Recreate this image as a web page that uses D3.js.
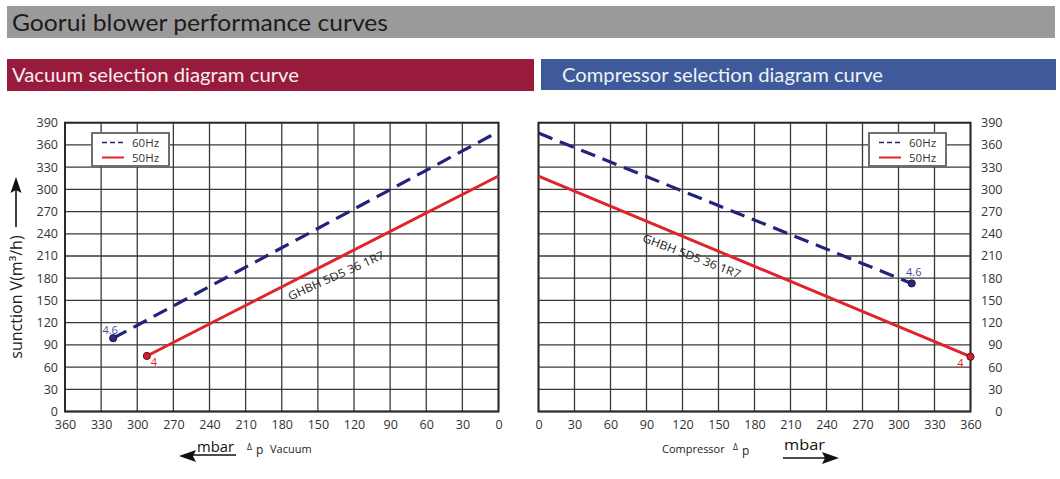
<!DOCTYPE html>
<html>
<head>
<meta charset="utf-8">
<script src="https://cdn.jsdelivr.net/npm/d3@7"></script>
<style>
  html, body { margin: 0; padding: 0; background: #fff; }
  svg { display: block; }
</style>
</head>
<body>
<svg id="chart" width="1060" height="479"></svg>
<script>
// ---------------- data ----------------
const titleText = "Goorui blower performance curves";
const leftHeader = "Vacuum selection diagram curve";
const rightHeader = "Compressor selection diagram curve";
const modelLabel = "GHBH  5D5 36 1R7";
const seriesNames = ["60Hz", "50Hz"];

const mbarTicks = [0, 30, 60, 90, 120, 150, 180, 210, 240, 270, 300, 330, 360];
const flowTicks = [0, 30, 60, 90, 120, 150, 180, 210, 240, 270, 300, 330, 360, 390];

// Vacuum side (mbar vacuum -> suction volume m3/h)
const vacMbar60 = [320, 0];
const vacFlow60 = [99, 378];
const vacMbar50 = [292, 0];
const vacFlow50 = [75, 318];
const vacEndLabels = ["4.6", "4"];

// Compressor side (mbar overpressure -> suction volume m3/h)
const compMbar60 = [0, 311];
const compFlow60 = [376, 173];
const compMbar50 = [0, 360];
const compFlow50 = [318, 74];
const compEndLabels = ["4.6", "4"];

// ---------------- layout ----------------
const svg = d3.select("#chart");
const FONT = "'Open Sans', 'DejaVu Sans', sans-serif";
const HFONT = "Lato, 'Open Sans', sans-serif";
const col60 = "#23237a", col50 = "#e0242b";

const yTop = 122.7, yBot = 411.5;
const y = d3.scaleLinear().domain([0, 390]).range([yBot, yTop]);
const xL = d3.scaleLinear().domain([360, 0]).range([65, 498.5]);
const xR = d3.scaleLinear().domain([0, 360]).range([538.5, 970.5]);

// headers
svg.append("rect").attr("x", 7).attr("y", 6).attr("width", 1048).attr("height", 32).attr("fill", "#9a9a9a");
svg.append("text").attr("x", 12).attr("y", 31).attr("font-family", HFONT).attr("font-size", 23)
  .attr("fill", "#1c1c1c").attr("textLength", 376).attr("lengthAdjust", "spacingAndGlyphs").text(titleText);

svg.append("rect").attr("x", 7).attr("y", 59).attr("width", 527).attr("height", 32).attr("fill", "#981a3c");
svg.append("text").attr("x", 12).attr("y", 81.5).attr("font-family", HFONT).attr("font-size", 19.5)
  .attr("fill", "#f4eef0").attr("textLength", 287).attr("lengthAdjust", "spacingAndGlyphs").text(leftHeader);

svg.append("rect").attr("x", 541).attr("y", 59).attr("width", 515).attr("height", 31).attr("fill", "#3f5a9a");
svg.append("text").attr("x", 562).attr("y", 81.5).attr("font-family", HFONT).attr("font-size", 19.5)
  .attr("fill", "#eef1f8").attr("textLength", 321).attr("lengthAdjust", "spacingAndGlyphs").text(rightHeader);

function drawPanel(x, side, mb60, fl60, mb50, fl50, endLabels, legendX, label) {
  const g = svg.append("g");
  const [x0, x1] = d3.extent(x.range());
  // grid
  g.selectAll(".vg").data(mbarTicks).join("line")
    .attr("x1", d => x(d)).attr("x2", d => x(d)).attr("y1", yTop).attr("y2", yBot)
    .attr("stroke", "#3a3a3a").attr("stroke-width", 1.3);
  g.selectAll(".hg").data(flowTicks).join("line")
    .attr("x1", x0).attr("x2", x1).attr("y1", d => y(d)).attr("y2", d => y(d))
    .attr("stroke", "#3a3a3a").attr("stroke-width", 1.3);
  g.append("rect").attr("x", x0).attr("y", yTop).attr("width", x1 - x0).attr("height", yBot - yTop)
    .attr("fill", "none").attr("stroke", "#2a2a2a").attr("stroke-width", 2);

  // x axis labels
  const xa = g.append("g").attr("transform", `translate(0,${yBot})`)
    .call(d3.axisBottom(x).tickValues(mbarTicks).tickSize(0).tickPadding(9).tickFormat(d3.format("d")));
  xa.select(".domain").remove();
  xa.selectAll("text").attr("font-family", FONT).attr("font-size", 12.5).attr("fill", "#333");

  // y axis labels
  const ya = side === "left"
    ? g.append("g").attr("transform", `translate(${x0 - 7},0)`).call(d3.axisLeft(y).tickValues(flowTicks).tickSize(0).tickPadding(0))
    : g.append("g").attr("transform", `translate(${x1 + 32},0)`).call(d3.axisLeft(y).tickValues(flowTicks).tickSize(0).tickPadding(0));
  ya.select(".domain").remove();
  ya.selectAll("text").attr("font-family", FONT).attr("font-size", 12.5).attr("fill", "#333");

  // lines
  const line = d3.line().x(d => x(d[0])).y(d => y(d[1]));
  const d60 = mb60.map((m, i) => [m, fl60[i]]);
  const d50 = mb50.map((m, i) => [m, fl50[i]]);
  g.append("path").attr("d", line(d60)).attr("fill", "none").attr("stroke", col60)
    .attr("stroke-width", 3.2).attr("stroke-dasharray", "15,8");
  g.append("path").attr("d", line(d50)).attr("fill", "none").attr("stroke", col50).attr("stroke-width", 3);

  // end dots (the point away from 0 mbar)
  const e60 = d60.reduce((a, b) => (b[0] > a[0] ? b : a));
  const e50 = d50.reduce((a, b) => (b[0] > a[0] ? b : a));
  g.append("circle").attr("cx", x(e60[0])).attr("cy", y(e60[1])).attr("r", 3.6)
    .attr("fill", "#2a2a7a").attr("stroke", "#15154a").attr("stroke-width", 1);
  g.append("circle").attr("cx", x(e50[0])).attr("cy", y(e50[1])).attr("r", 3.6)
    .attr("fill", "#d02030").attr("stroke", "#6a1018").attr("stroke-width", 1);

  // end labels
  if (side === "left") {
    g.append("text").attr("x", x(e60[0]) - 3).attr("y", y(e60[1]) - 4).attr("text-anchor", "middle")
      .attr("font-family", FONT).attr("font-size", 11).attr("fill", "#4a4a9a").text(endLabels[0]);
    g.append("text").attr("x", x(e50[0]) + 7).attr("y", y(e50[1]) + 10).attr("text-anchor", "middle")
      .attr("font-family", FONT).attr("font-size", 11).attr("fill", "#e0242b").text(endLabels[1]);
  } else {
    g.append("text").attr("x", x(e60[0]) + 2).attr("y", y(e60[1]) - 7).attr("text-anchor", "middle")
      .attr("font-family", FONT).attr("font-size", 11).attr("fill", "#4a4a9a").text(endLabels[0]);
    g.append("text").attr("x", x(e50[0]) - 10).attr("y", y(e50[1]) + 10).attr("text-anchor", "middle")
      .attr("font-family", FONT).attr("font-size", 11).attr("fill", "#e0242b").text(endLabels[1]);
  }

  // model label
  g.append("text")
    .attr("transform", `translate(${x(label.m)},${y(label.f)}) rotate(${label.rot})`)
    .attr("font-family", FONT).attr("font-size", 11.5).attr("fill", "#222")
    .attr("textLength", 104).attr("lengthAdjust", "spacingAndGlyphs").text(modelLabel);

  // legend
  const lg = g.append("g").attr("transform", `translate(${legendX},133)`);
  lg.append("rect").attr("width", 77).attr("height", 33).attr("fill", "#fff")
    .attr("stroke", "#6e6e6e").attr("stroke-width", 2);
  lg.append("line").attr("x1", 10).attr("x2", 32).attr("y1", 9.5).attr("y2", 9.5)
    .attr("stroke", col60).attr("stroke-width", 1.6).attr("stroke-dasharray", "5,3");
  lg.append("line").attr("x1", 10).attr("x2", 32).attr("y1", 24.5).attr("y2", 24.5)
    .attr("stroke", col50).attr("stroke-width", 2);
  lg.selectAll("text.lt").data(seriesNames).join("text")
    .attr("x", 40).attr("y", (d, i) => 13.5 + i * 15)
    .attr("font-family", FONT).attr("font-size", 11.5).attr("fill", "#333").text(d => d);
}

drawPanel(xL, "left", vacMbar60, vacFlow60, vacMbar50, vacFlow50, vacEndLabels, 92,
  { m: 173, f: 150, rot: -24 });
drawPanel(xR, "right", compMbar60, compFlow60, compMbar50, compFlow50, compEndLabels, 869,
  { m: 86, f: 230, rot: 21 });

// y axis title with arrow
svg.append("text").attr("transform", "translate(22,297) rotate(-90)").attr("text-anchor", "middle")
  .attr("font-family", FONT).attr("font-size", 16).attr("fill", "#222").text("sunction V(m³/h)");
svg.append("line").attr("x1", 16).attr("x2", 16).attr("y1", 227).attr("y2", 188)
  .attr("stroke", "#111").attr("stroke-width", 1.6);
svg.append("path").attr("d", "M16,177 L10.5,193 L16,190 L21.5,193 Z").attr("fill", "#111");

// bottom annotations - vacuum
svg.append("line").attr("x1", 236).attr("x2", 190).attr("y1", 455).attr("y2", 455)
  .attr("stroke", "#111").attr("stroke-width", 1.6);
svg.append("path").attr("d", "M179,456 L196,450 L193,456 L196,462 Z").attr("fill", "#111");
svg.append("text").attr("x", 197).attr("y", 452).attr("font-family", FONT).attr("font-size", 15)
  .attr("fill", "#111").attr("textLength", 37).attr("lengthAdjust", "spacingAndGlyphs").text("mbar");
svg.append("text").attr("x", 247).attr("y", 450).attr("font-family", FONT).attr("font-size", 8.5)
  .attr("fill", "#222").text("Δ");
svg.append("text").attr("x", 256).attr("y", 454).attr("font-family", FONT).attr("font-size", 12)
  .attr("fill", "#222").text("p");
svg.append("text").attr("x", 270).attr("y", 453).attr("font-family", FONT).attr("font-size", 11)
  .attr("fill", "#222").text("Vacuum");

// bottom annotations - compressor
svg.append("text").attr("x", 662).attr("y", 453).attr("font-family", FONT).attr("font-size", 11)
  .attr("fill", "#222").text("Compressor");
svg.append("text").attr("x", 733).attr("y", 450).attr("font-family", FONT).attr("font-size", 8.5)
  .attr("fill", "#222").text("Δ");
svg.append("text").attr("x", 742).attr("y", 455).attr("font-family", FONT).attr("font-size", 12)
  .attr("fill", "#222").text("p");
svg.append("text").attr("x", 784).attr("y", 450).attr("font-family", FONT).attr("font-size", 15)
  .attr("fill", "#111").attr("textLength", 41).attr("lengthAdjust", "spacingAndGlyphs").text("mbar");
svg.append("line").attr("x1", 783).attr("x2", 828).attr("y1", 458).attr("y2", 458)
  .attr("stroke", "#111").attr("stroke-width", 1.6);
svg.append("path").attr("d", "M839,458 L822,452 L825,458 L822,464 Z").attr("fill", "#111");
</script>
</body>
</html>
